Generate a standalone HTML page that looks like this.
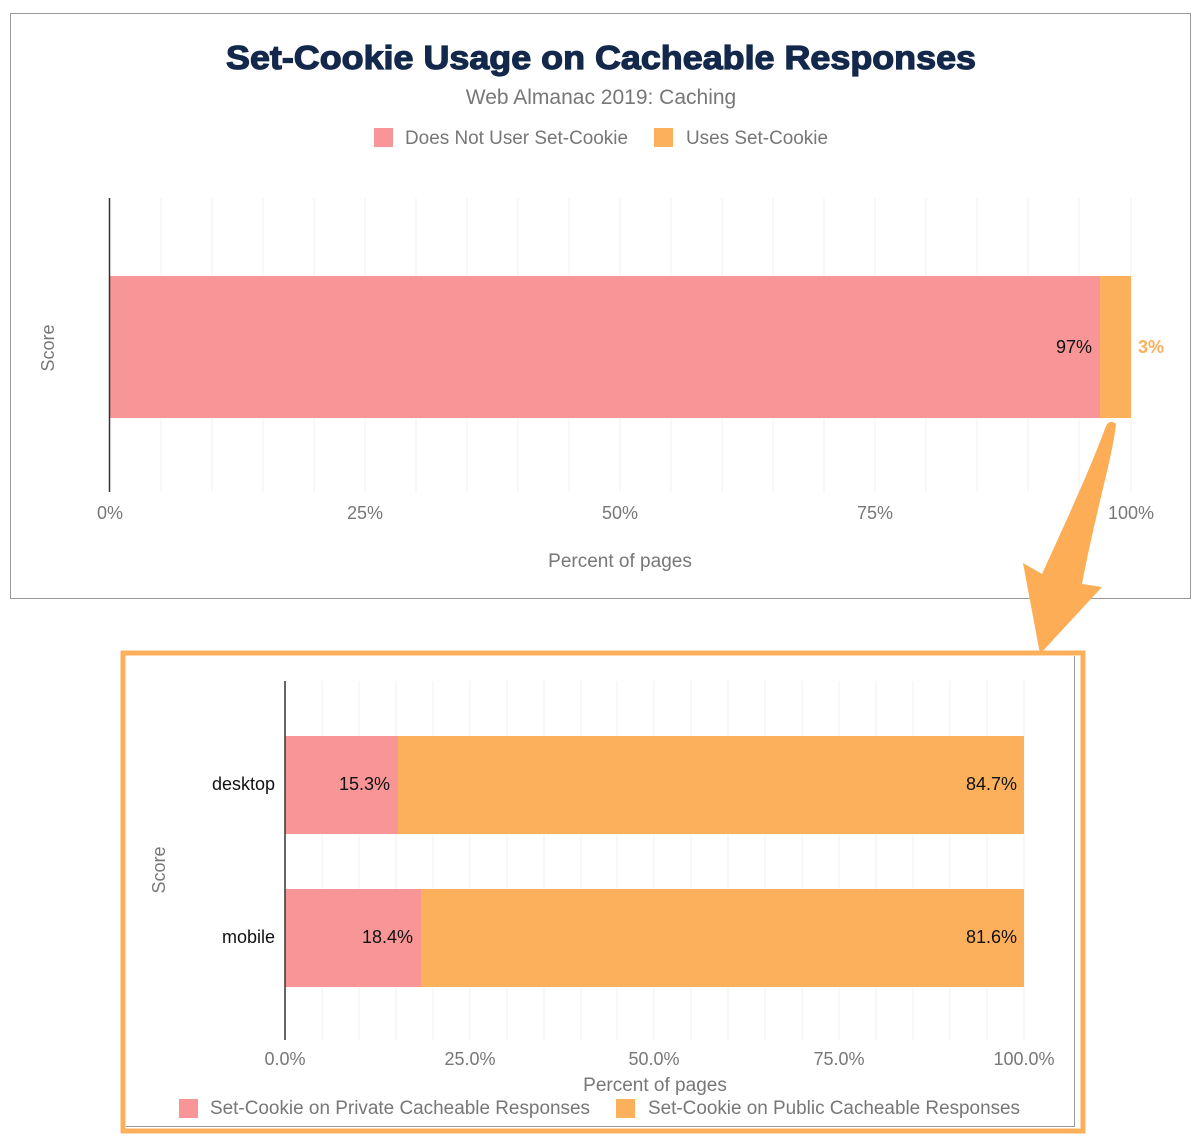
<!DOCTYPE html>
<html><head><style>
body{margin:0;width:1204px;height:1138px;background:#fff;font-family:"Liberation Sans",sans-serif;position:relative;overflow:hidden}
</style></head><body>
<svg width="1204" height="1138" style="position:absolute;left:0;top:0" font-family="Liberation Sans, sans-serif">
<rect x="10.5" y="13.5" width="1180" height="585" fill="#fff" stroke="#999" stroke-width="1"/>
<text x="226" y="69" textLength="750" lengthAdjust="spacingAndGlyphs" font-size="33" font-weight="900" fill="#13284b" stroke="#13284b" stroke-width="1.2">Set-Cookie Usage on Cacheable Responses</text>
<text x="601" y="104" text-anchor="middle" font-size="21" fill="#777">Web Almanac 2019: Caching</text>
<rect x="374" y="128" width="19" height="19" fill="#f79597"/>
<text x="405" y="144" font-size="19" fill="#777" textLength="223" lengthAdjust="spacingAndGlyphs">Does Not User Set-Cookie</text>
<rect x="654" y="128" width="19" height="19" fill="#fcb05c"/>
<text x="686" y="144" font-size="19" fill="#777" textLength="142" lengthAdjust="spacingAndGlyphs">Uses Set-Cookie</text>
<g stroke="#f0f0f0" stroke-width="1">
<line x1="161" y1="198" x2="161" y2="492"/><line x1="212" y1="198" x2="212" y2="492"/><line x1="263" y1="198" x2="263" y2="492"/><line x1="314" y1="198" x2="314" y2="492"/><line x1="365" y1="198" x2="365" y2="492"/><line x1="416" y1="198" x2="416" y2="492"/><line x1="467" y1="198" x2="467" y2="492"/><line x1="518" y1="198" x2="518" y2="492"/><line x1="569" y1="198" x2="569" y2="492"/><line x1="620" y1="198" x2="620" y2="492"/><line x1="671" y1="198" x2="671" y2="492"/><line x1="722" y1="198" x2="722" y2="492"/><line x1="773" y1="198" x2="773" y2="492"/><line x1="824" y1="198" x2="824" y2="492"/><line x1="875" y1="198" x2="875" y2="492"/><line x1="926" y1="198" x2="926" y2="492"/><line x1="977" y1="198" x2="977" y2="492"/><line x1="1028" y1="198" x2="1028" y2="492"/><line x1="1079" y1="198" x2="1079" y2="492"/><line x1="1131" y1="198" x2="1131" y2="492"/>
</g>
<rect x="110" y="276" width="990" height="142" fill="#f79597"/>
<rect x="1100" y="276" width="31" height="142" fill="#fcb05c"/>
<line x1="109.5" y1="198" x2="109.5" y2="492" stroke="#333" stroke-width="1.5"/>
<text x="1092" y="353" text-anchor="end" font-size="18" fill="#111">97%</text>
<text x="1138" y="353" font-size="18" font-weight="bold" fill="#fcb05c">3%</text>
<text x="54" y="348" text-anchor="middle" font-size="18" fill="#777" transform="rotate(-90 54 348)">Score</text>
<g font-size="18" fill="#777" text-anchor="middle">
<text x="110" y="519">0%</text><text x="365" y="519">25%</text><text x="620" y="519">50%</text><text x="875" y="519">75%</text><text x="1131" y="519">100%</text>
</g>
<text x="620" y="567" text-anchor="middle" font-size="19" fill="#777">Percent of pages</text>

<rect x="123" y="653" width="960" height="478" fill="#fff" stroke="#fcb05c" stroke-width="5"/>
<line x1="1074.5" y1="656" x2="1074.5" y2="1126" stroke="#999"/>
<line x1="126" y1="1126.5" x2="1075" y2="1126.5" stroke="#999"/>
<g stroke="#f0f0f0" stroke-width="1">
<line x1="322" y1="681" x2="322" y2="1040"/><line x1="359" y1="681" x2="359" y2="1040"/><line x1="396" y1="681" x2="396" y2="1040"/><line x1="433" y1="681" x2="433" y2="1040"/><line x1="470" y1="681" x2="470" y2="1040"/><line x1="507" y1="681" x2="507" y2="1040"/><line x1="544" y1="681" x2="544" y2="1040"/><line x1="581" y1="681" x2="581" y2="1040"/><line x1="617" y1="681" x2="617" y2="1040"/><line x1="654" y1="681" x2="654" y2="1040"/><line x1="691" y1="681" x2="691" y2="1040"/><line x1="728" y1="681" x2="728" y2="1040"/><line x1="765" y1="681" x2="765" y2="1040"/><line x1="802" y1="681" x2="802" y2="1040"/><line x1="839" y1="681" x2="839" y2="1040"/><line x1="876" y1="681" x2="876" y2="1040"/><line x1="913" y1="681" x2="913" y2="1040"/><line x1="950" y1="681" x2="950" y2="1040"/><line x1="987" y1="681" x2="987" y2="1040"/><line x1="1024" y1="681" x2="1024" y2="1040"/>
</g>
<rect x="285" y="736" width="113" height="98" fill="#f79597"/>
<rect x="398" y="736" width="626" height="98" fill="#fcb05c"/>
<rect x="285" y="889" width="136" height="98" fill="#f79597"/>
<rect x="421" y="889" width="603" height="98" fill="#fcb05c"/>
<line x1="285" y1="681" x2="285" y2="1040" stroke="#333" stroke-width="1.5"/>
<g font-size="18" fill="#111">
<text x="390" y="790" text-anchor="end">15.3%</text><text x="1017" y="790" text-anchor="end">84.7%</text>
<text x="413" y="943" text-anchor="end">18.4%</text><text x="1017" y="943" text-anchor="end">81.6%</text>
<text x="275" y="790" text-anchor="end">desktop</text><text x="275" y="943" text-anchor="end">mobile</text>
</g>
<text x="165" y="870" text-anchor="middle" font-size="18" fill="#777" transform="rotate(-90 165 870)">Score</text>
<g font-size="18" fill="#777" text-anchor="middle">
<text x="285" y="1065">0.0%</text><text x="470" y="1065">25.0%</text><text x="654" y="1065">50.0%</text><text x="839" y="1065">75.0%</text><text x="1024" y="1065">100.0%</text>
</g>
<text x="655" y="1091" text-anchor="middle" font-size="19" fill="#777">Percent of pages</text>
<rect x="179" y="1099" width="19" height="19" fill="#f79597"/>
<text x="210" y="1114" font-size="19" fill="#777" textLength="380" lengthAdjust="spacingAndGlyphs">Set-Cookie on Private Cacheable Responses</text>
<rect x="616" y="1099" width="19" height="19" fill="#fcb05c"/>
<text x="648" y="1114" font-size="19" fill="#777" textLength="372" lengthAdjust="spacingAndGlyphs">Set-Cookie on Public Cacheable Responses</text>

<path d="M1106,426 Q1110,419 1116,424 C1112,460 1096,510 1082,584 L1102,587 L1040,654 L1023,563 L1042,574 C1062,530 1090,470 1106,426 Z" fill="#fcad55"/>
</svg>
</body></html>
